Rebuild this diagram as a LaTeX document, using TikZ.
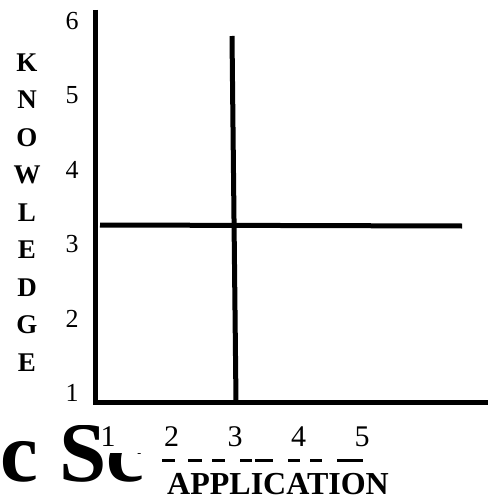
\documentclass[tikz,border=0pt]{standalone}
\usepackage{fontspec}
\setmainfont{Liberation Serif}

\begin{document}
\begin{tikzpicture}[
    x=1pt, y=-1pt,
    axisline/.style={line width=5pt, line join=miter},
    crossline/.style={line width=5pt},
    dashseg/.style={line width=3pt},
    ytickno/.style={inner sep=0pt, font=\fontsize{26}{26}\selectfont},
    xtickno/.style={inner sep=0pt, font=\fontsize{30}{30}\selectfont},
    axisletter/.style={inner sep=0pt, font=\fontsize{27}{27}\selectfont\bfseries},
    axistitle/.style={inner sep=0pt, font=\fontsize{32}{32}\selectfont\bfseries},
    bigtitle/.style={inner sep=0pt, font=\fontsize{85}{85}\selectfont\bfseries},
  ]
    \useasboundingbox (0,0) rectangle (490,500);

    % Clipped title text at the bottom left
    \begin{scope}
      \clip (0,425) -- (98,425) -- (98,453) -- (153,453) -- (153,500) -- (0,500) -- cycle;
      \node[bigtitle, anchor=base west] (ttl) at (0,481) {c Sc};
    \end{scope}

    % Axes
    \coordinate (top) at (95,10);
    \coordinate (org) at (95,402);
    \coordinate (right) at (488,402);
    \draw[axisline] (top) -- (org) -- (right);

    % Vertical and horizontal cross lines
    \coordinate (vt) at (232,36);
    \coordinate (vb) at (236,402);
    \coordinate (hl) at (100,225);
    \coordinate (hr) at (462,226);
    \draw[crossline] (vt) -- (vb);
    \draw[crossline] (hl) -- (hr);

    % Tick numbers
    \foreach \v in {1,...,6}
      \node[ytickno] (y\v) at (72, {21+74.4*(6-\v)}) {\v};
    \foreach \v in {1,...,5}
      \node[xtickno] (x\v) at ({108+63.5*(\v-1)}, 437) {\v};

    % Vertical axis title, one letter per line
    \foreach \ch [count=\i from 0] in {K,N,O,W,L,E,D,G,E}
      \node[axisletter] (k\i) at (27, {62.5+37.5*\i}) {\ch};

    % Underscores between the x numbers
    \foreach \a/\b in {162/175,188/202,212/225,240/252,255/273,288/300,310/322,337/363}
      \draw[dashseg] (\a,460) -- (\b,460);

    \node[axistitle, anchor=base west] (app) at (167,494) {APPLICATION};
\end{tikzpicture}
\end{document}
